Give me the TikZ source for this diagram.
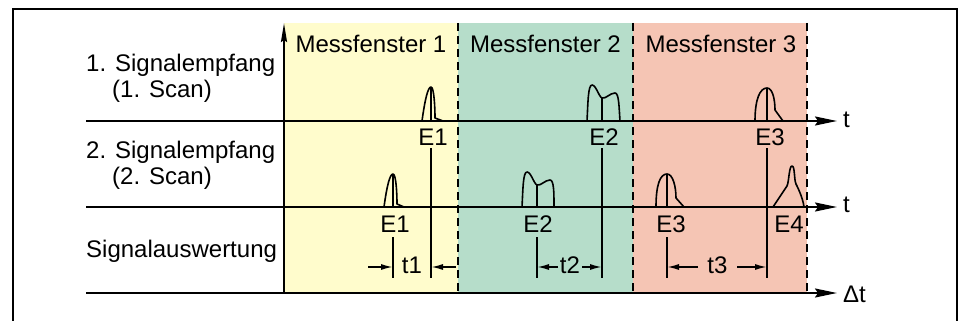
\documentclass[tikz,border=0pt]{standalone}
\usepackage{fontspec}
\setmainfont{Liberation Sans}
\usepackage{tikz}
\usetikzlibrary{arrows.meta}

\definecolor{winyellow}{RGB}{255,252,204}
\definecolor{wingreen}{RGB}{182,221,202}
\definecolor{winred}{RGB}{245,197,180}

\begin{document}
\begin{tikzpicture}[x=1pt, y=-1pt,
    txt/.style={inner sep=0pt, font=\fontsize{24}{28}\selectfont},
    axis/.style={line width=2pt, -{Stealth[length=22pt,width=9pt,inset=3pt]}},
    pulse/.style={line width=1.6pt, line join=round},
    marker/.style={line width=1.6pt},
    dim/.style={line width=1.6pt, -{Latex[length=12pt,width=6pt]}},
    fence/.style={line width=2pt, dash pattern=on 8pt off 5pt}]

    \useasboundingbox (0,0) rectangle (959,321);

    % Measurement windows
    \fill[winyellow] (284,23) rectangle (458,293);
    \fill[wingreen] (458,23) rectangle (633,293);
    \fill[winred] (633,23) rectangle (807,293);
    \draw[fence] (458,23) -- (458,293);
    \draw[fence] (633,23) -- (633,293);
    \draw[fence] (807,23) -- (807,293);

    \node[txt, anchor=base] (win1) at (371,53) {Messfenster 1};
    \node[txt, anchor=base] (win2) at (545.5,53) {Messfenster 2};
    \node[txt, anchor=base] (win3) at (721,53) {Messfenster 3};

    % Outer frame
    \draw[line width=2.3pt] (13,321) -- (13,9) -- (957,9) -- (957,321);

    % Row labels
    \node[txt, anchor=base west] (scanA) at (86,72) {1. Signalempfang};
    \node[txt, anchor=base west] (scanAb) at (112,97) {(1. Scan)};
    \node[txt, anchor=base west] (scanB) at (86,158) {2. Signalempfang};
    \node[txt, anchor=base west] (scanBb) at (112,184) {(2. Scan)};
    \node[txt, anchor=base west] (eval) at (86,257) {Signalauswertung};

    % Axes
    \coordinate (origin) at (284,293);
    \coordinate (top) at (284,23);
    \draw[line width=2pt, -{Stealth[length=19pt,width=6pt,inset=2pt]}] (origin) -- (top);
    \draw[axis] (86,121) -- (837,121);
    \draw[axis] (86,207) -- (837,207);
    \draw[axis] (86,293) -- (837,293);
    \node[txt, anchor=base west] (tA) at (843,127) {t};
    \node[txt, anchor=base west] (tB) at (843,212) {t};
    \node[txt, anchor=base west] (dt) at (843,302) {Δt};

    % Pulses, 1. Scan
    \begin{scope}[shift={(431,121)}]
      \draw[pulse] (-9,0) .. controls (-6,-22) and (-3,-34) .. (0,-34)
        .. controls (3,-34) and (4,-14) .. (4,-3) -- (12,0);
      \draw[pulse] (0,-34) -- (0,0);
    \end{scope}
    \begin{scope}[shift={(602,121)}]
      \draw[pulse] (-15,0) .. controls (-14,-18) and (-14,-36) .. (-10,-36)
        .. controls (-6,-36) and (-3,-24) .. (0,-23)
        .. controls (4,-22) and (8,-28) .. (13,-28)
        .. controls (17,-28) and (17,-14) .. (18,0);
      \draw[pulse] (0,-23) -- (0,0);
    \end{scope}
    \begin{scope}[shift={(767,121)}]
      \draw[pulse] (-12,0) .. controls (-12,-22) and (-7,-33) .. (0,-33)
        .. controls (6,-33) and (8,-20) .. (8,-11) -- (16,0);
      \draw[pulse] (0,-33) -- (0,0);
    \end{scope}

    % Pulses, 2. Scan
    \begin{scope}[shift={(393,207)}]
      \draw[pulse] (-9,0) .. controls (-6,-22) and (-3,-33) .. (0,-33)
        .. controls (3,-33) and (4,-14) .. (4,-3) -- (11,0);
      \draw[pulse] (0,-33) -- (0,0);
    \end{scope}
    \begin{scope}[shift={(537,207)}]
      \draw[pulse] (-15,0) .. controls (-14,-18) and (-14,-35) .. (-10,-35)
        .. controls (-6,-35) and (-3,-23) .. (0,-22)
        .. controls (4,-21) and (8,-27) .. (13,-27)
        .. controls (17,-27) and (17,-14) .. (17,0);
      \draw[pulse] (0,-22) -- (0,0);
    \end{scope}
    \begin{scope}[shift={(667,207)}]
      \draw[pulse] (-11,0) .. controls (-11,-22) and (-7,-33) .. (0,-33)
        .. controls (6,-33) and (9,-20) .. (9,-9) -- (17,0);
      \draw[pulse] (0,-33) -- (0,0);
    \end{scope}
    \begin{scope}[shift={(792,207)}]
      \draw[pulse] (-19,0) -- (-5,-21) .. controls (-3,-25) and (-3,-41) .. (0,-41)
        .. controls (3,-41) and (2,-27) .. (4,-23)
        .. controls (7,-17) and (11,-8) .. (12,0);
    \end{scope}

    % Echo labels and markers
    \node[txt, anchor=base] (e1a) at (433,145) {E1};
    \node[txt, anchor=base] (e2a) at (604,145) {E2};
    \node[txt, anchor=base] (e3a) at (770,145) {E3};
    \node[txt, anchor=base] (e1b) at (395,232.5) {E1};
    \node[txt, anchor=base] (e2b) at (538,232.5) {E2};
    \node[txt, anchor=base] (e3b) at (671,232.5) {E3};
    \node[txt, anchor=base] (e4b) at (789,232.5) {E4};

    \draw[marker] (431,148) -- (431,278);
    \draw[marker] (602,148) -- (602,278);
    \draw[marker] (767,148) -- (767,278);
    \draw[marker] (393,237) -- (393,278);
    \draw[marker] (537,237) -- (537,278);
    \draw[marker] (667,237) -- (667,278);

    % Time differences
    \draw[dim] (368,267) -- (393,267);
    \draw[dim] (456,267) -- (431,267);
    \node[txt, anchor=base] (t1) at (412,273) {t1};
    \draw[dim] (558,267) -- (537,267);
    \draw[dim] (582,267) -- (602,267);
    \node[txt, anchor=base] (t2) at (570,273) {t2};
    \draw[dim] (698,267) -- (667,267);
    \draw[dim] (737,267) -- (767,267);
    \node[txt, anchor=base] (t3) at (717.5,273) {t3};
\end{tikzpicture}
\end{document}
